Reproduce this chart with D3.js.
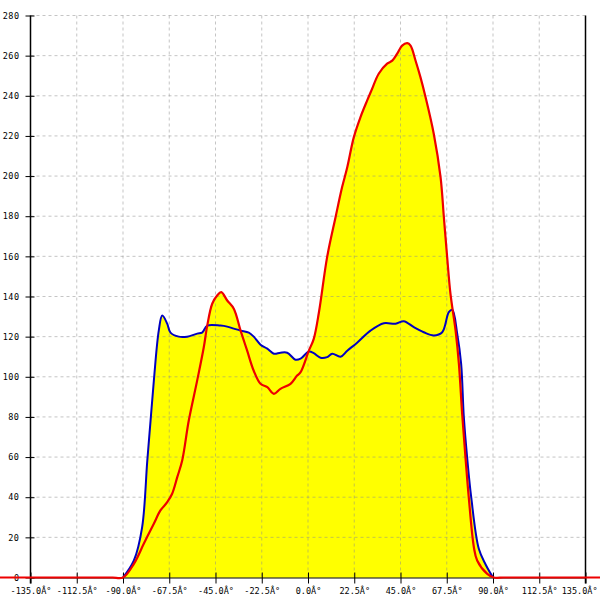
<!DOCTYPE html>
<html>
<head>
<meta charset="utf-8">
<script src="https://cdn.jsdelivr.net/npm/d3@7"></script>
<style>
html,body{margin:0;padding:0;background:#fff;}
svg{display:block;}
text{font-family:"DejaVu Sans Mono","Liberation Mono",monospace;font-size:8.5px;fill:#000;}
</style>
</head>
<body>
<svg id="chart" width="600" height="600"></svg>
<script>
const xTicks = [-135, -112.5, -90, -67.5, -45, -22.5, 0, 22.5, 45, 67.5, 90, 112.5, 135];
const yTicks = [0, 20, 40, 60, 80, 100, 120, 140, 160, 180, 200, 220, 240, 260, 280];

const blueX = [-90, -84.7, -80.7, -78.2, -76.6, -75.0, -72.6, -70.9, -68.5, -66.9, -62.9, -58.8, -53.9, -51.5, -49.0, -42.6, -39.3, -36.1, -32.8, -28.8, -26.4, -23.1, -19.8, -16.6, -13.4, -10.1, -6.1, -3.6, 0.4, 2.8, 6.1, 9.3, 11.8, 15.8, 19.1, 23.9, 30.4, 36.9, 42.6, 46.6, 51.5, 56.3, 61.2, 65.3, 68.5, 70.2, 72.6, 74.5, 75.8, 77.4, 79.4, 83.1, 86.4, 90];
const blueY = [0, 8.5, 25, 58, 78, 98, 123, 130.5, 126.5, 122, 120, 120, 121.5, 122, 125.5, 125.5, 125, 124, 123, 122, 120, 116, 114, 111.5, 112, 112, 108.5, 109, 112.6, 111.8, 109.5, 109.8, 111.5, 110, 113, 117, 123, 126.7, 126.4, 127.7, 124.7, 122.2, 120.6, 122.2, 132.2, 133.4, 121.4, 106.5, 80, 60, 40, 14.3, 6.5, 0];

const redX = [-150, -120, -100, -95, -90, -84.7, -79.9, -75.0, -71.8, -68.5, -66.1, -63.6, -61.2, -58.0, -53.9, -50.7, -49.0, -46.6, -44.2, -42.2, -39.3, -36.1, -32.8, -29.6, -26.4, -23.1, -19.8, -16.6, -13.4, -8.5, -5.3, -3.6, 0.4, 2.8, 5.3, 9.3, 13.4, 16.6, 19.1, 22.3, 25.5, 28.8, 31.0, 34.4, 38.5, 41.0, 43.4, 45.8, 48.3, 49.9, 52.3, 54.7, 57.2, 61.2, 64.5, 66.1, 67.7, 69.3, 71.8, 73.4, 75.0, 76.6, 78.2, 80.7, 82.3, 87.2, 90.4, 95, 100, 120, 150];
const redY = [0, 0, 0, 0, 0, 6.8, 16.8, 26.8, 33.4, 37.5, 41.7, 50, 58.3, 78.2, 98.2, 114.7, 125.6, 136.4, 140.5, 142.2, 138, 133.9, 123, 113, 103, 96.5, 94.8, 91.5, 94, 96.5, 100.6, 102.3, 113, 118.9, 132, 159.6, 179.5, 194.5, 204.4, 219.4, 229.3, 237.7, 243, 251, 256, 257.5, 261, 265, 266.2, 265, 257.6, 249.3, 239.3, 221, 199.4, 179.5, 159.6, 141.4, 123, 106.5, 81.5, 60, 40, 15.1, 8.5, 1.8, 0, 0, 0, 0, 0];

const blue = blueX.map((x, i) => ({x, y: blueY[i]}));
const red = redX.map((x, i) => ({x, y: redY[i]}));

const svg = d3.select("#chart");
const x = d3.scaleLinear().domain([-135, 135]).range([30.5, 585.5]);
const y = d3.scaleLinear().domain([0, 280]).range([577.5, 15.5]);

const curve = d3.curveCatmullRom.alpha(0.5);
const area = d3.area().x(d => x(d.x)).y0(y(0)).y1(d => y(Math.max(0, d.y))).curve(curve);
const line = d3.line().x(d => x(d.x)).y(d => y(d.y)).curve(curve);

svg.append("path").datum(blue).attr("d", area).attr("fill", "#ffff00");
svg.append("path").datum(red).attr("d", area).attr("fill", "#ffff00");

// grid
const grid = svg.append("g").attr("stroke", "#8c8c8c").attr("stroke-opacity", 0.5).attr("stroke-dasharray", "3,3").attr("stroke-width", 1);
grid.selectAll("line.v").data(xTicks.filter(d => d > -135 && d < 135)).enter().append("line")
  .attr("x1", d => x(d)).attr("x2", d => x(d)).attr("y1", y(280)).attr("y2", y(0));
grid.selectAll("line.h").data(yTicks.filter(d => d > 0)).enter().append("line")
  .attr("x1", x(-135)).attr("x2", x(135)).attr("y1", d => y(d)).attr("y2", d => y(d));

// axes
const xAxis = d3.axisBottom(x).tickValues(xTicks).tickSize(6).tickSizeOuter(0).tickPadding(4)
  .tickFormat(d => d.toFixed(1) + "Â°");
const gx = svg.append("g").attr("transform", `translate(0,${y(0)})`).call(xAxis);
gx.select(".domain").attr("stroke", "#000");
gx.selectAll(".tick line").attr("y1", -5).attr("y2", 6).attr("stroke", "#000");
gx.selectAll(".tick text").attr("font-family", null).attr("font-size", null).style("font-family", '"DejaVu Sans Mono",monospace').style("font-size", "8.5px");
gx.selectAll(".tick text").filter(d => d === 135).attr("text-anchor", "end").attr("x", 597 - x(135));

const yAxis = d3.axisLeft(y).tickValues(yTicks).tickSize(5).tickSizeOuter(0).tickPadding(6).tickFormat(d3.format("d"));
const gy = svg.append("g").attr("transform", `translate(${x(-135)},0)`).call(yAxis);
gy.select(".domain").remove();
gy.selectAll(".tick line").attr("x1", -5).attr("x2", 4).attr("stroke", "#000");
gy.selectAll(".tick text").attr("font-family", null).attr("font-size", null).style("font-family", '"DejaVu Sans Mono",monospace').style("font-size", "8.5px").style("letter-spacing", "0.5px");

svg.append("line").attr("x1", x(-135)).attr("x2", x(-135)).attr("y1", y(280)).attr("y2", y(0) + 6).attr("stroke", "#000").attr("stroke-width", 1.5);
svg.append("line").attr("x1", x(135)).attr("x2", x(135)).attr("y1", y(280)).attr("y2", y(0) + 6).attr("stroke", "#000").attr("stroke-width", 1.5);

svg.append("path").datum(blue).attr("d", line).attr("fill", "none").attr("stroke", "#0000c0").attr("stroke-width", 2);
svg.append("path").datum(red).attr("d", line).attr("fill", "none").attr("stroke", "#ee0000").attr("stroke-width", 2.2);
</script>
</body>
</html>
